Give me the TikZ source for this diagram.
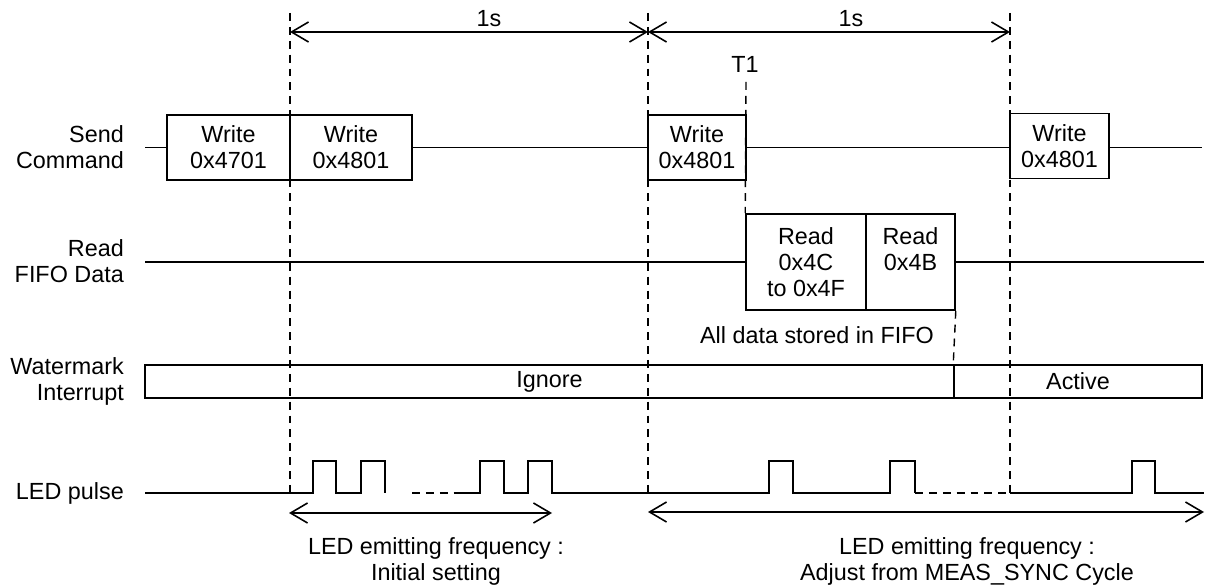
\documentclass[tikz,border=0pt]{standalone}
\usepackage{fontspec}
\setmainfont{Liberation Sans}
\usetikzlibrary{arrows.meta}

\tikzset{
  sig/.style={line width=0.9pt},
  guide/.style={line width=0.8pt, dash pattern=on 4.5pt off 3.4pt},
  cmdbox/.style={draw, line width=0.9pt, inner sep=0pt, align=center},
  span/.style={line width=0.9pt, {Straight Barb[length=0.34cm,width=0.4cm]}-{Straight Barb[length=0.34cm,width=0.4cm]}},
  lbl/.style={align=right, anchor=east},
}

\begin{document}
\begin{tikzpicture}[x=0.02cm, y=-0.02cm, font=\fontsize{13.3}{14.8}\selectfont]
\useasboundingbox (0,0) rectangle (1206,587);

% row labels
\node[lbl] (lsend) at (130,147) {Send\\Command};
\node[lbl] (lread) at (130,261) {Read\\FIFO Data};
\node[lbl] (lwm) at (130,381) {Watermark\\Interrupt};
\node[lbl] (lled) at (130,493) {LED pulse};

% send command
\node[cmdbox, minimum width=2.46cm, minimum height=1.3cm] (w1) at (228.5,147.5) {Write\\0x4701};
\node[cmdbox, minimum width=2.44cm, minimum height=1.3cm] (w2) at (351,147.5) {Write\\0x4801};
\node[cmdbox, minimum width=1.96cm, minimum height=1.3cm] (w3) at (697,147.5) {Write\\0x4801};
\node[cmdbox, minimum width=1.98cm, minimum height=1.3cm] (w4) at (1059.5,146) {Write\\0x4801};
\coordinate (sendL) at (145,147.5);
\coordinate (sendR) at (1202,147.5);
\draw[sig] (sendL) -- (w1.west);
\draw[sig] (w2.east) -- (w3.west);
\draw[sig] (w3.east) -- (w4.west |- w3.east);
\draw[sig] (w4.east |- w3.east) -- (sendR);

% read fifo data
\node[cmdbox, minimum width=2.4cm, minimum height=1.92cm] (r1) at (806,262) {Read\\0x4C\\to 0x4F};
\node[cmdbox, minimum width=1.78cm, minimum height=1.92cm] (r2) at (910.5,262) {Read\\0x4B\\\phantom{0x4B}};
\coordinate (readL) at (145,262);
\coordinate (readR) at (1204,262);
\draw[sig] (readL) -- (r1.west);
\draw[sig] (r2.east) -- (readR);
\node (stored) at (817,335) {All data stored in FIFO};

% watermark interrupt
\node[cmdbox, minimum width=16.18cm, minimum height=0.66cm] (ign) at (549.5,381.5) {Ignore};
\node[cmdbox, minimum width=4.96cm, minimum height=0.66cm] (act) at (1078,381.5) {Active};

% guides
\coordinate (g1t) at (290,13);  \coordinate (g1b) at (290,493);
\coordinate (g2t) at (648,13);  \coordinate (g2b) at (648,493);
\coordinate (g3t) at (1010,13); \coordinate (g3b) at (1010,493);
\coordinate (t1t) at (746,82);
\draw[guide] (g1t) -- (g1b);
\draw[guide] (g2t) -- (g2b);
\draw[guide] (g3t) -- (g3b);
\draw[guide] (t1t) -- (r1.north west);
\draw[guide] (r2.south east) -- (act.north west);
\node (t1) at (745,64) {T1};

% 1s spans
\coordinate (s1l) at (290,32);  \coordinate (s1r) at (648,32);
\coordinate (s2l) at (648,32);  \coordinate (s2r) at (1010,32);
\draw[span] (s1l) -- (s1r);
\draw[span] (s2l) -- (s2r);
\node (one1) at (489,19) {1s};
\node (one2) at (851,19) {1s};

% LED pulse
\draw[sig] (145,493) -- (313,493) -- (313,461) -- (336,461) -- (336,493) -- (361,493) -- (361,461) -- (385,461) -- (385,493);
\draw[guide] (412,493) -- (457,493);
\draw[sig] (457,493) -- (480,493) -- (480,461) -- (504,461) -- (504,493) -- (528,493) -- (528,461) -- (552,461) -- (552,493)
  -- (769,493) -- (769,461) -- (793,461) -- (793,493) -- (890,493) -- (890,461) -- (915,461) -- (915,493);
\draw[guide] (915,493) -- (1010,493);
\draw[sig] (1010,493) -- (1132,493) -- (1132,461) -- (1155,461) -- (1155,493) -- (1204,493);

% emitting frequency spans
\coordinate (f1l) at (289,513); \coordinate (f1r) at (552,513);
\coordinate (f2l) at (648,512); \coordinate (f2r) at (1204,512);
\draw[span] (f1l) -- (f1r);
\draw[span] (f2l) -- (f2r);
\node[align=center] (freq1) at (436,561) {LED emitting frequency :\\Initial setting};
\node[align=center] (freq2) at (967,561) {LED emitting frequency :\\Adjust from MEAS\_SYNC Cycle};
\end{tikzpicture}
\end{document}
